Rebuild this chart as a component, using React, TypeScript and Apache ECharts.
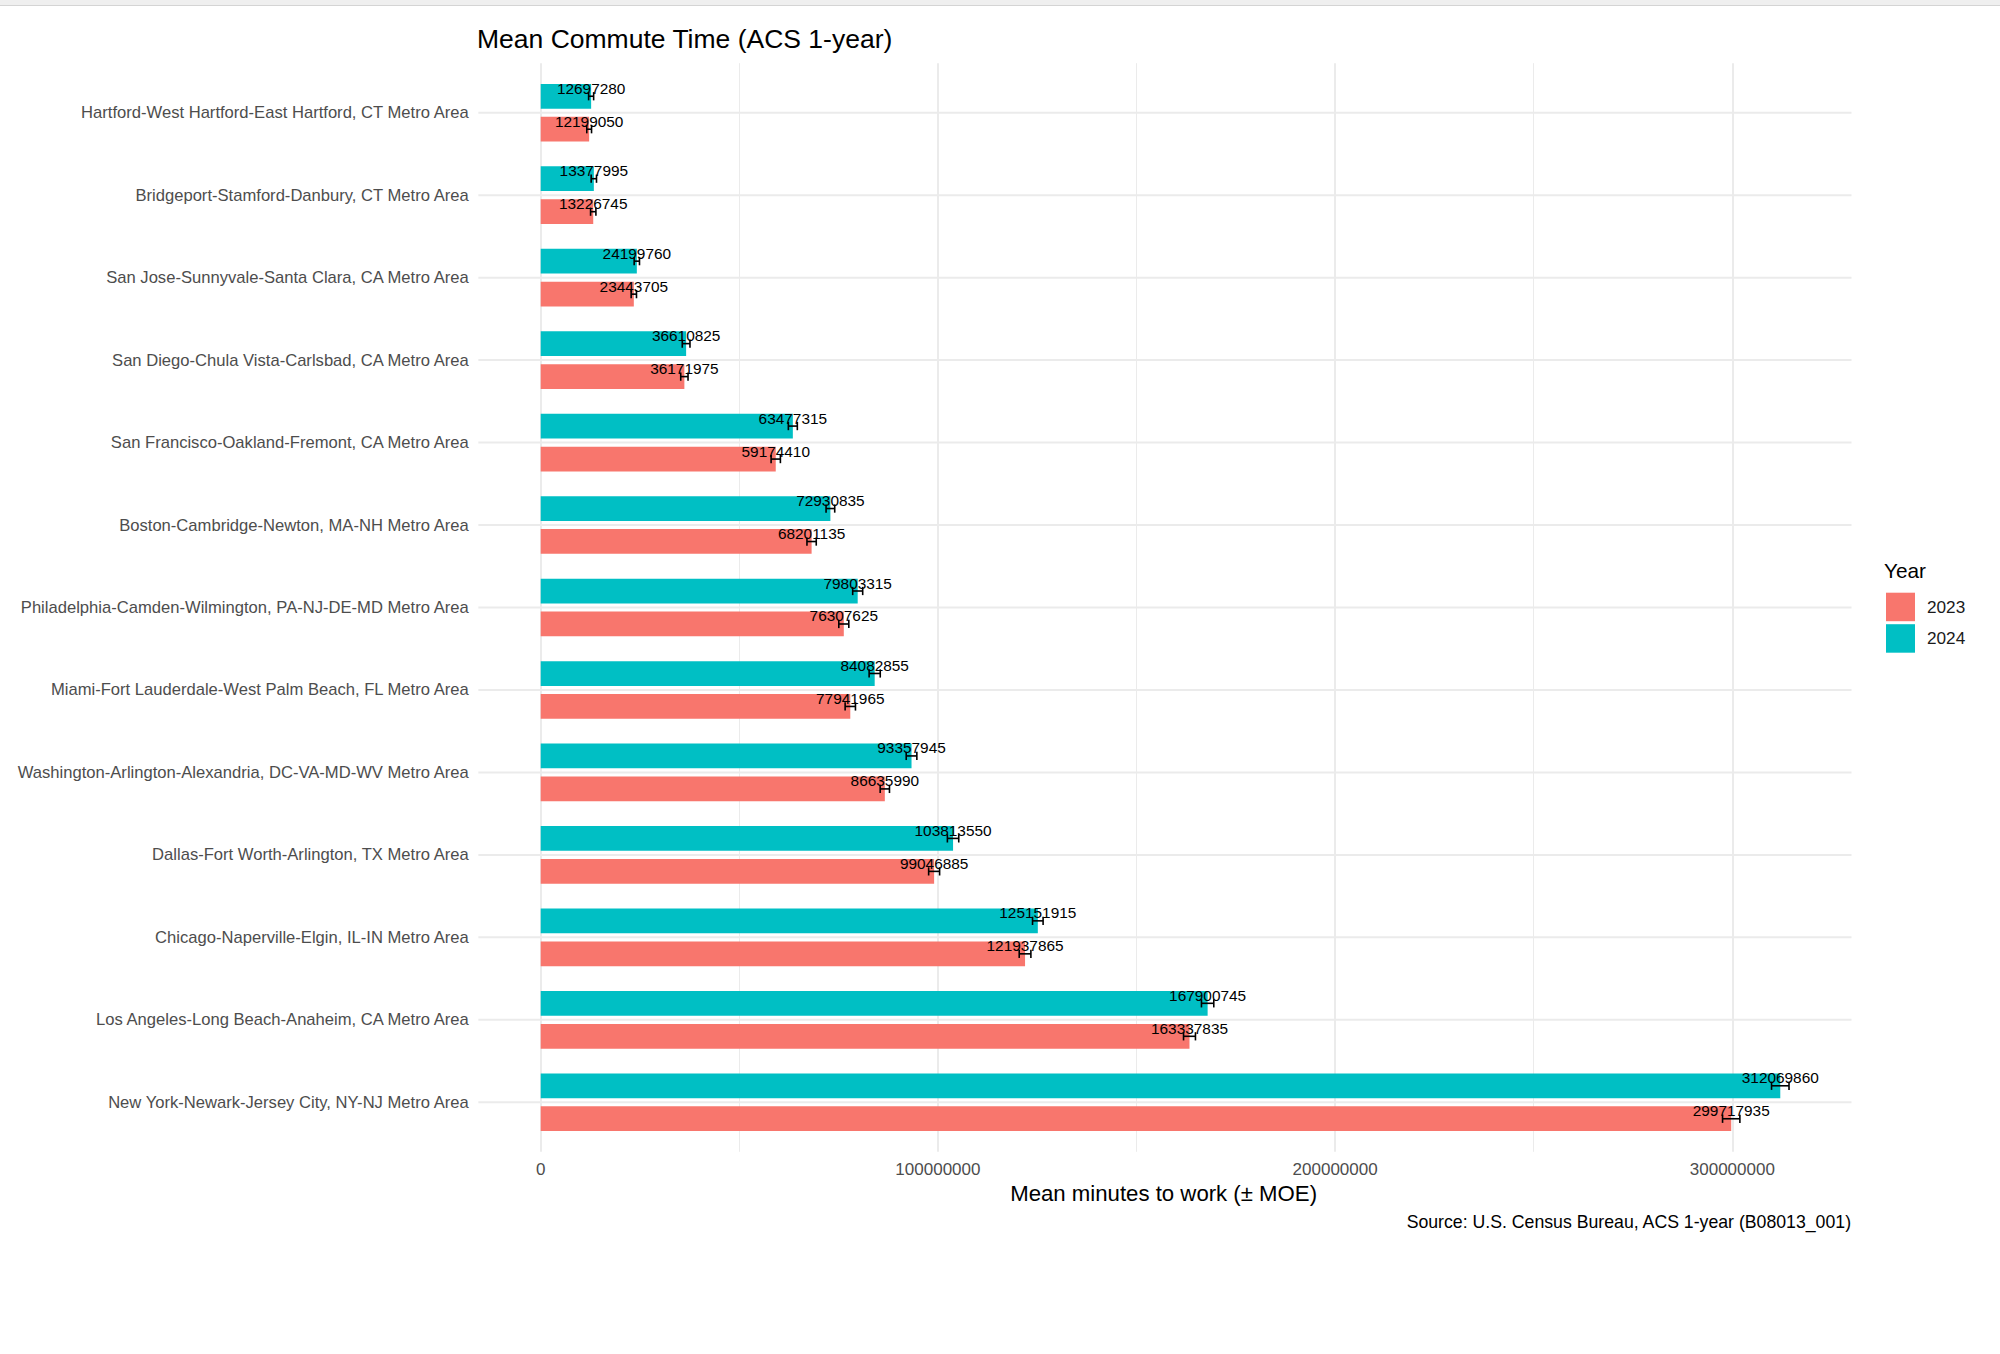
import React, { useEffect, useRef } from 'react';
import * as echarts from 'echarts';

const categories = [
  'Hartford-West Hartford-East Hartford, CT Metro Area',
  'Bridgeport-Stamford-Danbury, CT Metro Area',
  'San Jose-Sunnyvale-Santa Clara, CA Metro Area',
  'San Diego-Chula Vista-Carlsbad, CA Metro Area',
  'San Francisco-Oakland-Fremont, CA Metro Area',
  'Boston-Cambridge-Newton, MA-NH Metro Area',
  'Philadelphia-Camden-Wilmington, PA-NJ-DE-MD Metro Area',
  'Miami-Fort Lauderdale-West Palm Beach, FL Metro Area',
  'Washington-Arlington-Alexandria, DC-VA-MD-WV Metro Area',
  'Dallas-Fort Worth-Arlington, TX Metro Area',
  'Chicago-Naperville-Elgin, IL-IN Metro Area',
  'Los Angeles-Long Beach-Anaheim, CA Metro Area',
  'New York-Newark-Jersey City, NY-NJ Metro Area',
];

const values2024 = [
  12697280, 13377995, 24199760, 36610825, 63477315, 72930835, 79803315,
  84082855, 93357945, 103813550, 125151915, 167900745, 312069860,
];
const values2023 = [
  12199050, 13226745, 23443705, 36171975, 59174410, 68201135, 76307625,
  77941965, 86635990, 99046885, 121937865, 163337835, 299717935,
];
const moe2024 = [
  630000, 670000, 670000, 970000, 1130000, 1090000, 1260000, 1400000,
  1340000, 1430000, 1330000, 1550000, 2200000,
];
const moe2023 = [
  600000, 670000, 670000, 920000, 1170000, 1170000, 1260000, 1300000,
  1170000, 1380000, 1470000, 1500000, 2180000,
];

const xTickValues = [0, 100000000, 200000000, 300000000];
const years = ['2023', '2024'];

const FONT = '"Liberation Sans", Arial, Helvetica, sans-serif';
const X_MAX = 330000000;
const X_PANEL_MIN = -15700000;
const COLOR_2023 = '#F8766D';
const COLOR_2024 = '#00BFC4';
const GRID_COLOR = '#ebebeb';

export default function App() {
  const ref = useRef<HTMLDivElement>(null);

  useEffect(() => {
    document.body.style.margin = '0';
    const chart = echarts.init(ref.current as HTMLDivElement, null, { renderer: 'svg' });

    const errSeries = (name: string, vals: number[], moes: number[], off: number) => ({
      type: 'custom',
      name,
      xAxisIndex: 0,
      yAxisIndex: 0,
      z: 4,
      silent: true,
      clip: false,
      dimensions: ['v', 'c', 'm'],
      encode: { x: 0, y: 1 },
      data: vals.map((v, i) => [v, i, moes[i]]),
      renderItem: (params: any, api: any) => {
        const v = api.value(0);
        const c = api.value(1);
        const m = api.value(2);
        const band = api.size([0, 1])[1];
        const pl = api.coord([v - m, c]);
        const pr = api.coord([v + m, c]);
        const yc = pl[1] + off * band;
        const h = 0.05 * band;
        const st = { stroke: '#000', lineWidth: 1.6 };
        return {
          type: 'group',
          children: [
            { type: 'line', shape: { x1: pl[0], y1: yc, x2: pr[0], y2: yc }, style: st },
            { type: 'line', shape: { x1: pl[0], y1: yc - h, x2: pl[0], y2: yc + h }, style: st },
            { type: 'line', shape: { x1: pr[0], y1: yc - h, x2: pr[0], y2: yc + h }, style: st },
          ],
        };
      },
    });

    const barLabel = {
      show: true,
      position: ['100%', '50%'],
      align: 'center',
      verticalAlign: 'middle',
      offset: [0, -8],
      color: '#000',
      fontSize: 15.4,
      fontFamily: FONT,
      formatter: (p: any) => String(p.value),
    };

    const option: any = {
      animation: false,
      backgroundColor: '#ffffff',
      textStyle: { fontFamily: FONT },
      graphic: [
        { type: 'rect', shape: { x: 0, y: 0, width: 2000, height: 5 }, style: { fill: '#efefef' }, silent: true },
        { type: 'line', shape: { x1: 0, y1: 5.5, x2: 2000, y2: 5.5 }, style: { stroke: '#d4d4d4', lineWidth: 1 }, silent: true },
      ],
      title: [
        {
          text: 'Mean Commute Time (ACS 1-year)',
          left: 477,
          top: 25,
          padding: 0,
          textStyle: { fontFamily: FONT, fontSize: 26.5, fontWeight: 'normal', color: '#000' },
        },
        {
          text: 'Year',
          left: 1884,
          top: 560,
          padding: 0,
          textStyle: { fontFamily: FONT, fontSize: 20.8, fontWeight: 'normal', color: '#000' },
        },
        {
          text: 'Source: U.S. Census Bureau, ACS 1-year (B08013_001)',
          right: 148,
          top: 1213,
          padding: 0,
          textStyle: { fontFamily: FONT, fontSize: 17.7, fontWeight: 'normal', color: '#000' },
        },
      ],
      legend: {
        data: years,
        orient: 'vertical',
        left: 1886,
        top: 592.7,
        padding: 0,
        itemWidth: 29,
        itemHeight: 28.5,
        itemGap: 3,
        icon: 'rect',
        selectedMode: false,
        textStyle: { fontFamily: FONT, fontSize: 17.2, color: '#1a1a1a', padding: [0, 0, 0, 7] },
      },
      grid: [
        { left: 540.7, right: 148.5, top: 71.5, height: 1072, containLabel: false, outerBoundsMode: 'none' },
        { left: 540.7, right: 148.5, top: 63.2, height: 1088.6, containLabel: false, outerBoundsMode: 'none' },
      ],
      xAxis: [
        {
          type: 'value',
          gridIndex: 0,
          min: 0,
          max: X_MAX,
          show: false,
          splitLine: { show: false },
        },
        {
          type: 'value',
          gridIndex: 1,
          min: 0,
          max: X_MAX,
          interval: 100000000,
          axisLine: { show: false },
          axisTick: { show: false },
          minorTick: { show: false, splitNumber: 2 },
          axisLabel: {
            show: true,
            margin: 9,
            color: '#4d4d4d',
            fontSize: 17,
            fontFamily: FONT,
            showMaxLabel: false,
            formatter: (v: number) => (xTickValues.includes(v) ? String(v) : ''),
          },
          splitLine: { show: true, showMaxLine: false, lineStyle: { color: GRID_COLOR, width: 2 } },
          minorSplitLine: { show: true, lineStyle: { color: GRID_COLOR, width: 1 } },
          name: 'Mean minutes to work (± MOE)',
          nameLocation: 'middle',
          nameGap: 28,
          nameTextStyle: { fontFamily: FONT, fontSize: 22.2, color: '#000', padding: [0, 65, 0, 0] },
        },
      ],
      yAxis: [
        {
          type: 'category',
          gridIndex: 0,
          data: categories,
          inverse: true,
          axisLine: { show: false },
          axisTick: { show: false },
          splitLine: { show: false },
          axisLabel: { margin: 72, color: '#4d4d4d', fontSize: 16.6, fontFamily: FONT },
        },
        {
          type: 'value',
          gridIndex: 1,
          min: 0,
          max: 1,
          show: false,
          splitLine: { show: false },
        },
      ],
      series: [
        {
          type: 'custom',
          name: 'hgrid',
          xAxisIndex: 0,
          yAxisIndex: 0,
          z: 1,
          silent: true,
          clip: false,
          dimensions: ['x1', 'c', 'x2'],
          encode: { x: [0, 2], y: 1 },
          data: categories.map((_, i) => [X_PANEL_MIN, i, X_MAX]),
          renderItem: (params: any, api: any) => {
            const p1 = api.coord([api.value(0), api.value(1)]);
            const p2 = api.coord([api.value(2), api.value(1)]);
            return {
              type: 'line',
              shape: { x1: p1[0], y1: p1[1], x2: p2[0], y2: p2[1] },
              style: { stroke: GRID_COLOR, lineWidth: 2 },
            };
          },
        },
        {
          type: 'bar',
          name: '2024',
          xAxisIndex: 0,
          yAxisIndex: 0,
          z: 2,
          data: values2024,
          barWidth: '30%',
          barGap: '33%',
          itemStyle: { color: COLOR_2024 },
          label: barLabel,
        },
        {
          type: 'bar',
          name: '2023',
          xAxisIndex: 0,
          yAxisIndex: 0,
          z: 2,
          data: values2023,
          barWidth: '30%',
          barGap: '33%',
          itemStyle: { color: COLOR_2023 },
          label: barLabel,
        },
        errSeries('err2024', values2024, moe2024, -0.2),
        errSeries('err2023', values2023, moe2023, 0.2),
      ],
    };

    chart.setOption(option);
    return () => {
      chart.dispose();
    };
  }, []);

  return <div ref={ref} style={{ width: 2000, height: 1354 }} />;
}
